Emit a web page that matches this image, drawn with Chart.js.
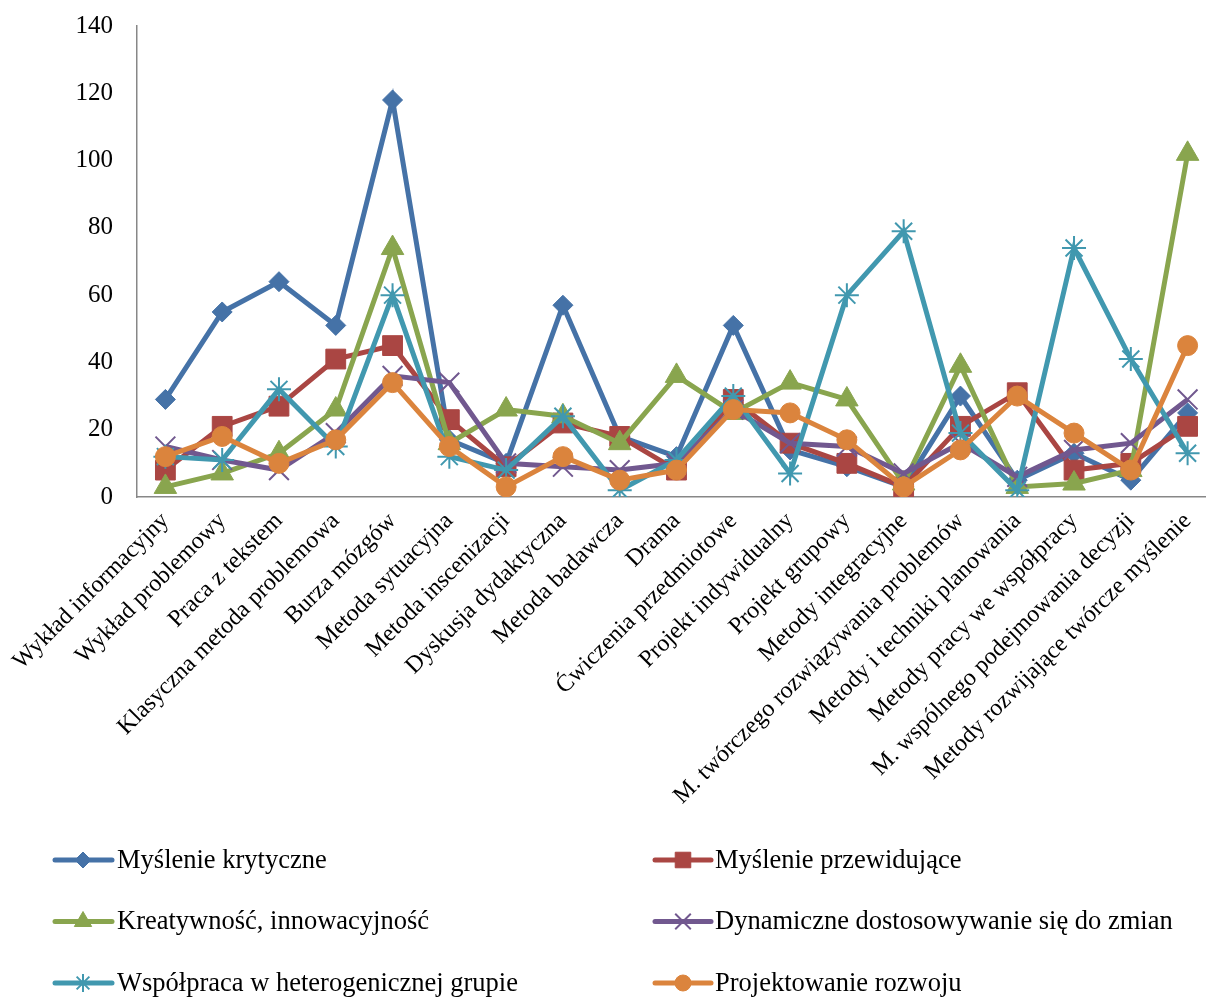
<!DOCTYPE html>
<html lang="pl">
<head>
<meta charset="utf-8">
<title>Metody nauczania a kompetencje</title>
<script src="https://cdn.jsdelivr.net/npm/chart.js@4/dist/chart.umd.min.js"></script>
<style>
  html { overflow: hidden; }
  html, body { margin: 0; padding: 0; background: #fff; }
  body { width: 1240px; height: 997px; }
  #wrap { position: absolute; left: 0; top: 0; width: 1240px; height: 997px; }
</style>
</head>
<body>
<div id="wrap"><canvas id="chart"></canvas></div>
<script>
// Metody nauczania (oś X)
const categories = [
  'Wykład informacyjny',
  'Wykład problemowy',
  'Praca z tekstem',
  'Klasyczna metoda problemowa',
  'Burza mózgów',
  'Metoda sytuacyjna',
  'Metoda inscenizacji',
  'Dyskusja dydaktyczna',
  'Metoda badawcza',
  'Drama',
  'Ćwiczenia przedmiotowe',
  'Projekt indywidualny',
  'Projekt grupowy',
  'Metody integracyjne',
  'M. twórczego rozwiązywania problemów',
  'Metody i techniki planowania',
  'Metody pracy we współpracy',
  'M. wspólnego podejmowania decyzji',
  'Metody rozwijające twórcze myślenie'
];

// Serie – kompetencje
const myslenieKrytyczne      = [29, 55, 64, 51, 118, 17, 10, 57, 18, 12, 51, 14, 9, 3, 30, 5, 13, 5, 25];
const mysleniePrzewidujace   = [8, 21, 27, 41, 45, 23, 9, 22, 18, 8, 29, 16, 10, 3, 21, 31, 8, 10, 21];
const kreatywnosc            = [3, 7, 13, 26, 74, 16, 26, 24, 16, 36, 25, 34, 29, 4, 39, 3, 4, 8, 102];
const dostosowywanie         = [15, 11, 8, 19, 36, 34, 10, 9, 8, 10, 26, 16, 15, 7, 16, 6, 14, 16, 29];
const wspolpraca             = [12, 11, 32, 15, 60, 12, 8, 24, 2, 11, 30, 7, 60, 79, 19, 2, 74, 41, 13];
const projektowanieRozwoju   = [12, 18, 10, 17, 34, 15, 3, 12, 5, 8, 26, 25, 17, 3, 14, 30, 19, 8, 45];

// Oś Y
const yTicks = [0, 20, 40, 60, 80, 100, 120, 140];

const seriesNames = [
  'Myślenie krytyczne',
  'Myślenie przewidujące',
  'Kreatywność, innowacyjność',
  'Dynamiczne dostosowywanie się do zmian',
  'Współpraca w heterogenicznej grupie',
  'Projektowanie rozwoju'
];
const seriesValues = [myslenieKrytyczne, mysleniePrzewidujace, kreatywnosc, dostosowywanie, wspolpraca, projektowanieRozwoju];
const colors = ['#4572A7', '#AA4643', '#89A54E', '#71588F', '#4198AF', '#DB843D'];
const markers = [
  { style: 'rectRot',  radius: 10, border: 1 },
  { style: 'rect',     radius: 14, border: 1 },
  { style: 'triangle', radius: 13, border: 1 },
  { style: 'crossRot', radius: 14, border: 2 },
  { style: 'star',     radius: 12, border: 2 },
  { style: 'circle',   radius: 10, border: 1 }
];
const legendMarkers = [
  { style: 'rectRot',  radius: 8,  border: 1 },
  { style: 'rect',     radius: 11, border: 1 },
  { style: 'triangle', radius: 10, border: 1 },
  { style: 'crossRot', radius: 11, border: 2 },
  { style: 'star',     radius: 9,  border: 2 },
  { style: 'circle',   radius: 8,  border: 1 }
];

const FONT = "'Liberation Serif', 'Times New Roman', serif";

const datasets = seriesNames.map((name, i) => ({
  label: name,
  data: seriesValues[i],
  borderColor: colors[i],
  backgroundColor: colors[i],
  borderWidth: 5,
  pointStyle: markers[i].style,
  pointRadius: markers[i].radius,
  pointHoverRadius: markers[i].radius,
  pointBorderWidth: markers[i].border,
  pointBorderColor: colors[i],
  pointBackgroundColor: colors[i],
  tension: 0,
  order: seriesNames.length - i   // later series drawn on top
}));

// Legend in two columns under the plot
const twoColumnLegend = {
  id: 'twoColumnLegend',
  afterDraw(chart) {
    const ctx = chart.ctx;
    const cols = [{ lineX0: 55, lineX1: 112, markX: 83, textX: 117 },
                  { lineX0: 655, lineX1: 711, markX: 683, textX: 715 }];
    const rows = [860, 921.5, 983];
    ctx.save();
    seriesNames.forEach((name, i) => {
      const c = cols[i % 2];
      const y = rows[Math.floor(i / 2)];
      ctx.strokeStyle = colors[i];
      ctx.fillStyle = colors[i];
      ctx.lineWidth = 5;
      ctx.lineCap = 'round';
      ctx.beginPath();
      ctx.moveTo(c.lineX0, y);
      ctx.lineTo(c.lineX1, y);
      ctx.stroke();
      ctx.lineCap = 'butt';
      const m = legendMarkers[i];
      ctx.lineWidth = m.border;
      if (Chart.helpers && Chart.helpers.drawPoint) {
        Chart.helpers.drawPoint(ctx, { pointStyle: m.style, radius: m.radius, rotation: 0, borderWidth: m.border }, c.markX, y);
      }
      ctx.fillStyle = '#000';
      ctx.font = '26.5px ' + FONT;
      ctx.textAlign = 'left';
      ctx.textBaseline = 'middle';
      ctx.fillText(name, c.textX, y + 1);
    });
    ctx.restore();
  }
};

new Chart(document.getElementById('chart'), {
  type: 'line',
  data: { labels: categories, datasets },
  options: {
    responsive: true,
    maintainAspectRatio: false,
    animation: false,
    layout: { padding: { left: 0, top: 26, right: 24, bottom: 0 } },
    plugins: {
      legend: { display: false },
      tooltip: { enabled: false }
    },
    scales: {
      x: {
        type: 'category',
        offset: true,
        grid: { display: false, drawTicks: false },
        border: { display: true, color: '#878787', width: 1.5 },
        ticks: {
          autoSkip: false,
          minRotation: 45,
          maxRotation: 45,
          padding: 10,
          color: '#000',
          font: { family: FONT, size: 24 }
        },
        afterFit(scale) {
          scale.height = 500;
          scale.paddingRight = 0;
        }
      },
      y: {
        min: 0,
        max: 140,
        afterBuildTicks(scale) { scale.ticks = yTicks.map(v => ({ value: v })); },
        grid: { display: false, drawTicks: false },
        border: { display: true, color: '#878787', width: 1.5 },
        ticks: {
          padding: 24,
          color: '#000',
          font: { family: FONT, size: 25 }
        },
        afterFit(scale) {
          scale.width = 137;
          scale.paddingTop = 0;
          scale.paddingBottom = 0;
        }
      }
    }
  },
  plugins: [twoColumnLegend]
});
</script>
</body>
</html>
